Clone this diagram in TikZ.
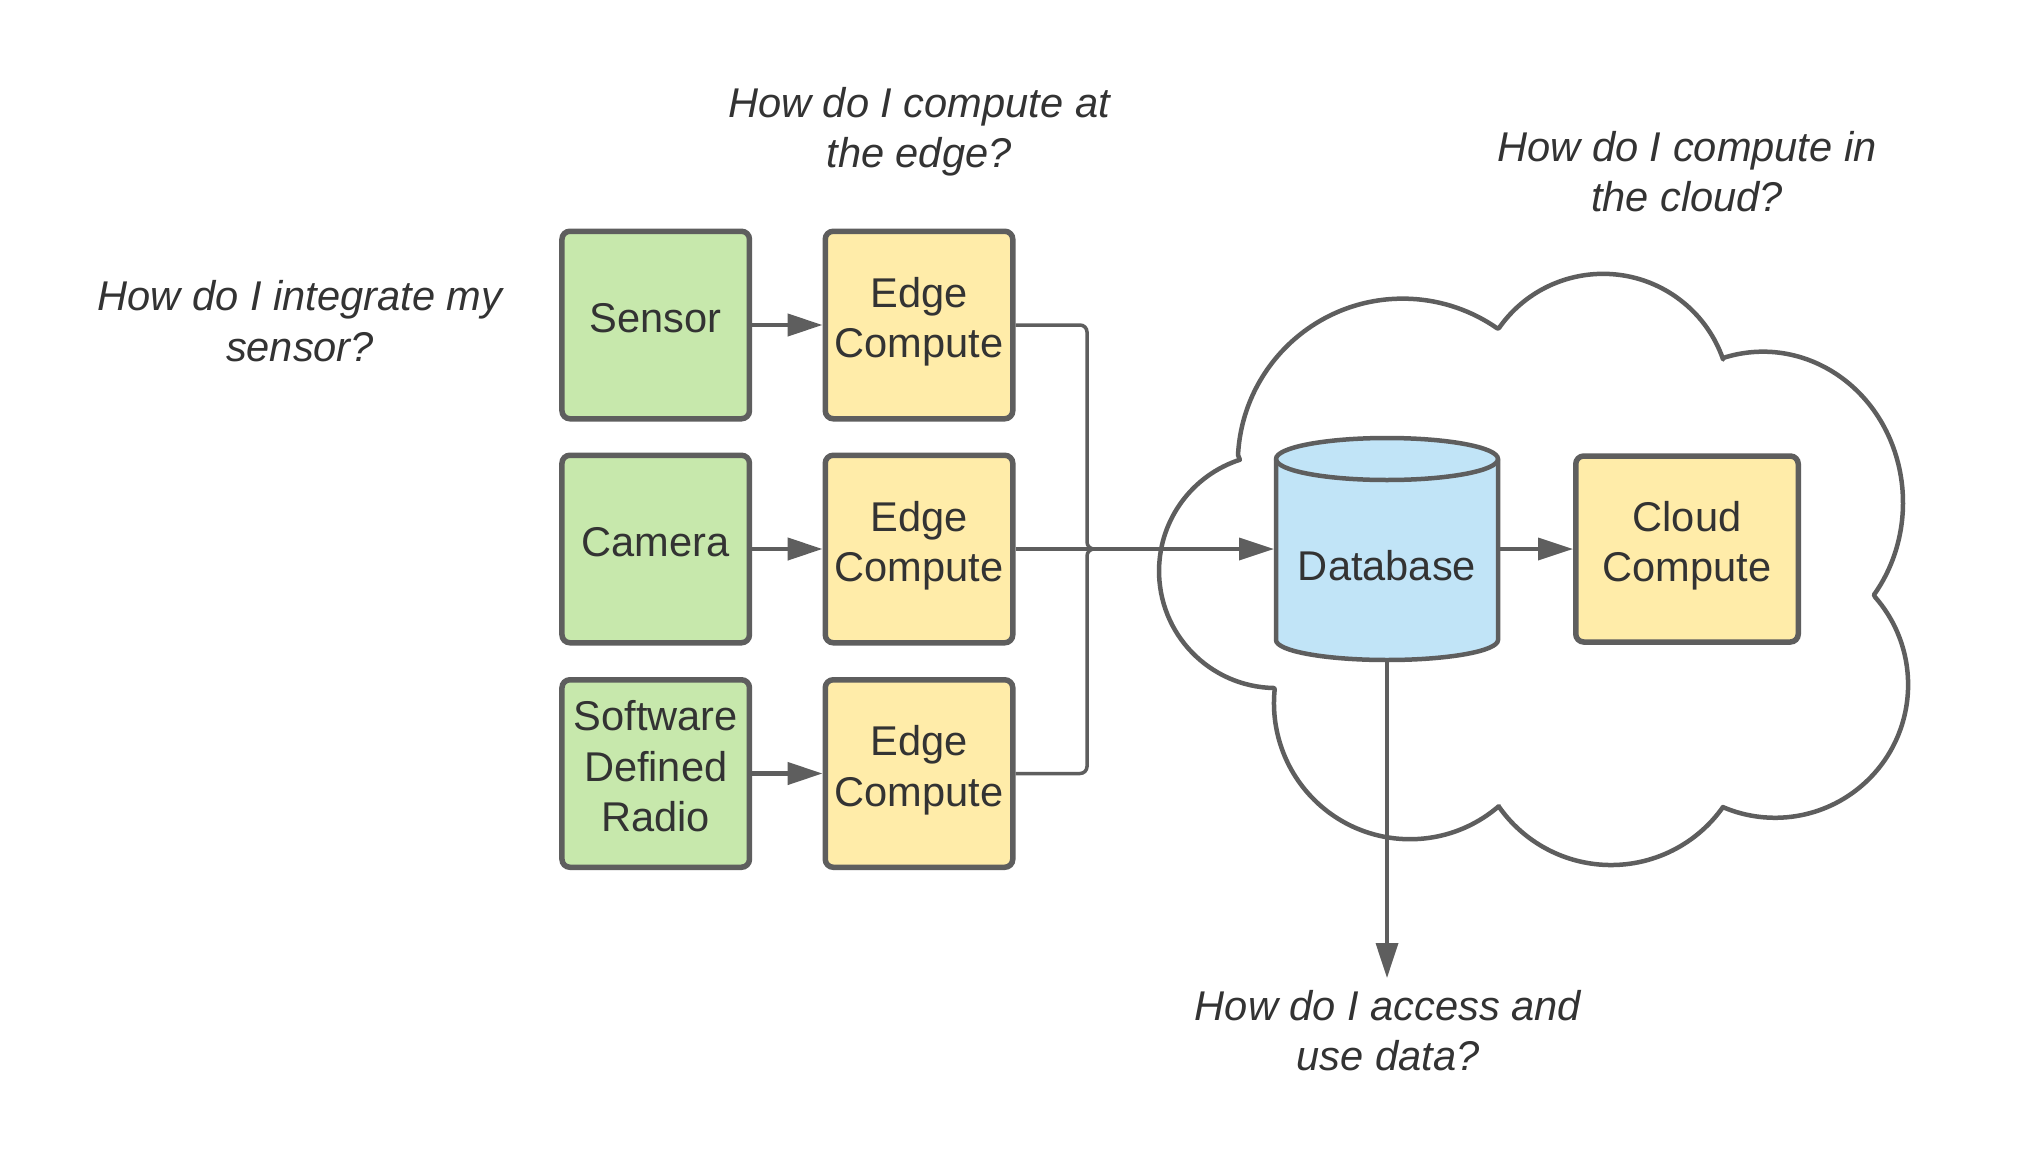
\documentclass[tikz,border=0pt]{standalone}
\usepackage{fontspec}
\setmainfont{Liberation Sans}
\usetikzlibrary{arrows.meta}
\definecolor{linec}{HTML}{5E5E5E}
\definecolor{txtc}{HTML}{333333}
\definecolor{greenf}{HTML}{C7E8AC}
\definecolor{yellowf}{HTML}{FFECA9}
\definecolor{bluef}{HTML}{C1E4F7}
\newcommand\tx[1]{\smash{#1}\vrule width0pt height15.1pt depth0pt}
\newcommand\dbtx[1]{\smash{#1}\vrule width0pt height63pt depth0pt}
\begin{document}
\begin{tikzpicture}[x=1pt,y=-1pt,
  lbl/.style={font=\fontsize{41.6}{50.5}\selectfont, text=txtc, align=center, inner sep=0pt},
  qtext/.style={lbl, font=\fontsize{41.6}{50.5}\selectfont\itshape},
  box/.style={lbl, draw=linec, line width=5.5pt, rounded corners=8pt, minimum width=187.5pt, minimum height=187.5pt},
  srcbox/.style={box, fill=greenf},
  edgebox/.style={box, fill=yellowf},
  cloudbox/.style={box, fill=yellowf, minimum width=222.5pt, minimum height=186pt},
  arrowhd/.style={-{Triangle[length=35pt,width=22pt]}},
  feed/.style={draw=linec, line width=4.5pt, arrowhd},
  conn/.style={draw=linec, line width=3.5pt},
  cloudline/.style={draw=linec, line width=4.5pt, fill=white, line join=round},
  dbshape/.style={draw=linec, line width=4.5pt, fill=bluef},
  dbnode/.style={lbl, outer sep=0pt, minimum width=226pt, minimum height=226pt},
]
\fill[white] (0,0) rectangle (2025,1172);
\useasboundingbox (0,0) rectangle (2025,1172);

% cloud
\path[cloudline] (1274,688) arc[start angle=91, end angle=252, radius=117]
  -- (1238,455) arc[start angle=183, end angle=305, radius=165]
  -- (1499,328) arc[start angle=215, end angle=341, radius=127]
  -- (1723,358) arc[start angle=253.4, end angle=397.6, x radius=140, y radius=151]
  -- (1875,597) arc[start angle=-41.3, end angle=113.1, radius=133]
  -- (1723,807) arc[start angle=35.2, end angle=145.1, radius=137]
  -- (1499,806) arc[start angle=49.1, end angle=185.9, radius=136]
  -- cycle;

% database cylinder
\path[dbshape] (1276,459) -- (1276,640) arc[start angle=180, end angle=0, x radius=111, y radius=20]
  -- (1498,459) arc[start angle=0, end angle=-180, x radius=111, y radius=21] -- cycle;
\draw[linec, line width=4.5pt] (1276,459) arc[start angle=180, end angle=0, x radius=111, y radius=21];
\node[dbnode] (db) at (1387,549) {\dbtx{Database}};

% boxes
\node[srcbox] (s1) at (655.7,325) {\tx{Sensor}};
\node[srcbox] (s2) at (655.7,549) {\tx{Camera}};
\node[srcbox] (s3) at (655.7,773.5) {\tx{Software}\\\tx{Defined}\\\tx{Radio}};
\node[edgebox] (e1) at (919,325) {\tx{Edge}\\\tx{Compute}};
\node[edgebox] (e2) at (919,549) {\tx{Edge}\\\tx{Compute}};
\node[edgebox] (e3) at (919,773.5) {\tx{Edge}\\\tx{Compute}};
\node[cloudbox] (cc) at (1687,549) {\tx{Cloud}\\\tx{Compute}};

% questions
\node[qtext] (qsensor) at (300,328.5) {\tx{How do I integrate my}\\\tx{sensor?}};
\node[qtext] (qedge) at (919,134.7) {\tx{How do I compute at}\\\tx{the edge?}};
\node[qtext] (qcloud) at (1687,178.7) {\tx{How do I compute in}\\\tx{the cloud?}};
\node[qtext] (qdata) at (1388,1038) {\tx{How do I access and}\\\tx{use data?}};

% connectors
\draw[feed] (s1.east) -- (e1.west);
\draw[feed] (s2.east) -- (e2.west);
\draw[feed] (s3.east) -- (e3.west);
\coordinate (jn) at (1087,549);
\draw[conn, rounded corners=7pt] (e1.east) -| (jn) -- ++(40,0);
\draw[conn, rounded corners=7pt] (e3.east) -| (jn) -- ++(40,0);
\draw[conn, arrowhd] (e2.east) -- (db.west);
\draw[conn, arrowhd] (db.east) -- (cc.west);
\coordinate (dq) at (1387,978);
\draw[conn, arrowhd] (db.south) -- (dq);
\end{tikzpicture}
\end{document}
